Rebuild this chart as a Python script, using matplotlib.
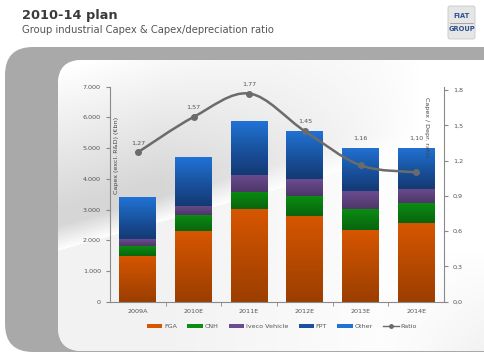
import numpy as np
import matplotlib
matplotlib.use("Agg")
import matplotlib.pyplot as plt
from matplotlib.patches import FancyBboxPatch, PathPatch, Patch
from matplotlib.lines import Line2D
from matplotlib.path import Path
from matplotlib.ticker import FixedLocator

# data (EUR mn)
years = ["2009A", "2010E", "2011E", "2012E", "2013E", "2014E"]
fga = [1500, 2310, 3010, 2800, 2340, 2570]
cnh = [320, 520, 570, 630, 670, 650]
iveco = [220, 300, 560, 550, 580, 460]
fpt = [600, 700, 800, 700, 650, 600]
other = [760, 870, 940, 880, 780, 740]
ratio = [1.27, 1.57, 1.77, 1.45, 1.16, 1.10]
ratio_labels = ["1,27", "1,57", "1,77", "1,45", "1,16", "1,10"]

series = [("FGA", fga, "#d65600"), ("CNH", cnh, "#0b8c12"),
          ("Iveco Vehicle", iveco, "#6b4c90"), ("FPT", fpt, "#1a509e"),
          ("Other", other, "#2172d6")]

W, H = 484, 356
fig = plt.figure(figsize=(W / 100, H / 100), dpi=100)
fig.patch.set_facecolor("white")

# --- background panels ---
bg = fig.add_axes([0, 0, 1, 1])
bg.set_xlim(0, W)
bg.set_ylim(H, 0)
bg.axis("off")
bg.add_patch(FancyBboxPatch((5, 47), 520, 305, boxstyle="round,pad=0,rounding_size=28",
                            fc="#a9a9a9", ec="none"))
inner = FancyBboxPatch((58, 60), 470, 291, boxstyle="round,pad=0,rounding_size=24",
                       fc="white", ec="none")
bg.add_patch(inner)
xx, yy = np.meshgrid(np.arange(W), np.arange(H))
d = yy - (250 - 0.28 * (xx - 58))
gray = np.where(d < 0, 0.16 * np.clip(-d / 25, 0, 1) * np.clip(1 - (-d - 40) / 140, 0, 1), 0.05)
gray *= np.clip((420 - xx) / 260, 0, 1)
gray += 0.05 * np.clip((yy - 250) / 100, 0, 1) * np.clip((xx - 380) / 100, 0, 1)
shade = 1 - gray
img = bg.imshow(np.dstack([shade] * 3), extent=(0, W, H, 0), aspect="auto", zorder=1)
img.set_clip_path(inner)

# header
bg.text(22, 16, "2010-14 plan", fontsize=9.3, fontweight="bold", color="#3a3a3a", va="center")
bg.text(22, 30, "Group industrial Capex & Capex/depreciation ratio", fontsize=7.2,
        color="#555555", va="center")
bg.add_patch(FancyBboxPatch((448, 6), 27, 33, boxstyle="round,pad=0,rounding_size=2",
                            fc="#e6e6e6", ec="#c8c8c8", lw=0.6))
bg.plot([450, 473], [22.5, 22.5], color="#8a8a8a", lw=0.5)
bg.text(461.5, 16, "FIAT", fontsize=4.8, fontweight="bold", color="#2b4f8c", ha="center", va="center")
bg.text(461.5, 29, "GROUP", fontsize=4.8, fontweight="bold", color="#2b4f8c", ha="center", va="center")

# --- chart ---
ax = fig.add_axes([110 / W, 1 - 301.7 / H, 334 / W, 215 / H])
ax.set_facecolor("none")
x = np.arange(len(years))
bottom = np.zeros(len(years))
grad = np.zeros((64, 1, 4))
grad[..., 3] = np.linspace(0.28, 0.0, 64)[:, None]
for name, vals, col in series:
    bars = ax.bar(x, vals, 0.66, bottom=bottom, color=col, label=name, zorder=2)
    for b in bars:
        im = ax.imshow(grad, extent=(b.get_x(), b.get_x() + b.get_width(), b.get_y(),
                                     b.get_y() + b.get_height()),
                       origin="lower", aspect="auto", zorder=2.5, interpolation="bilinear")
        im.set_clip_path(b)
    bottom += np.array(vals)

ax.set_xlim(-0.5, len(years) - 0.5)
ax.set_ylim(0, 7000)
ax.set_yticks(range(0, 7001, 1000))
ax.set_yticklabels([f"{v:,}".replace(",", ".") for v in range(0, 7001, 1000)])
ax.set_xticks(x)
ax.set_xticklabels(years)
ax.xaxis.set_minor_locator(FixedLocator(np.arange(0.5, len(years) - 0.5, 1)))
ax.tick_params(axis="x", which="major", length=0, labelsize=4.6, labelcolor="#555555", pad=5)
ax.tick_params(axis="x", which="minor", length=3, color="#888888")
ax.tick_params(axis="y", length=3, color="#888888", labelsize=4.6, labelcolor="#555555")
for s in ["top", "right"]:
    ax.spines[s].set_visible(False)
for s in ["left", "bottom"]:
    ax.spines[s].set_color("#8a8a8a")
    ax.spines[s].set_linewidth(0.8)
ax.text(0.012, 0.68, "Capex (excl. R&D) (€bn)", transform=ax.transAxes, rotation=90,
        fontsize=4.6, color="#444444", ha="left", va="center")

rmax = 1.828
ax2 = ax.twinx()
ax2.set_ylim(0, rmax)
ax2.set_yticks(np.arange(0, 1.81, 0.3))
ax2.set_yticklabels([f"{v:.1f}".replace(".", ",") for v in np.arange(0, 1.81, 0.3)])
ax2.tick_params(axis="y", length=3, color="#888888", labelsize=4.6, labelcolor="#555555")
for s in ["top", "left", "bottom"]:
    ax2.spines[s].set_visible(False)
ax2.spines["right"].set_color("#8a8a8a")
ax2.spines["right"].set_linewidth(0.8)

# smooth ratio line (Catmull-Rom through the data points)
pts = np.column_stack([x, ratio]).astype(float)
verts, codes = [pts[0]], [Path.MOVETO]
for i in range(len(pts) - 1):
    p0 = pts[max(i - 1, 0)]
    p1, p2 = pts[i], pts[i + 1]
    p3 = pts[min(i + 2, len(pts) - 1)]
    verts += [p1 + (p2 - p0) / 6, p2 - (p3 - p1) / 6, p2]
    codes += [Path.CURVE4] * 3
ax2.add_patch(PathPatch(Path(verts, codes), fc="none", ec="#6b6b6b", lw=1.8, zorder=3))
ax2.plot(x, ratio, "o", color="#6b6b6b", ms=4, zorder=4)
# labels sit above the point, or above the bar when the point is inside it
for xi, r, lab, top in zip(x, ratio, ratio_labels, bottom):
    ly = max(r, top * rmax / 7000)
    ax2.annotate(lab, (xi, ly), xytext=(0, 5), textcoords="offset points", ha="center",
                 va="bottom", fontsize=4.6, color="#555555")
ax2.text(0.949, 0.81, "Capex / Depr. ratio", transform=ax2.transAxes, rotation=270,
         fontsize=4.6, color="#444444", ha="center", va="center")

handles = [Patch(fc=col, label=name) for name, _, col in series]
handles.append(Line2D([], [], color="#6b6b6b", marker="o", ms=2.5, lw=1, label="Ratio"))
fig.legend(handles=handles, loc="center", bbox_to_anchor=(282 / W, 1 - 326.7 / H), ncol=6,
           frameon=False, fontsize=4.6, handlelength=2.4, handleheight=0.6,
           columnspacing=1.6, handletextpad=0.3, labelcolor="#555555")

fig.savefig("out.png", dpi=100)
